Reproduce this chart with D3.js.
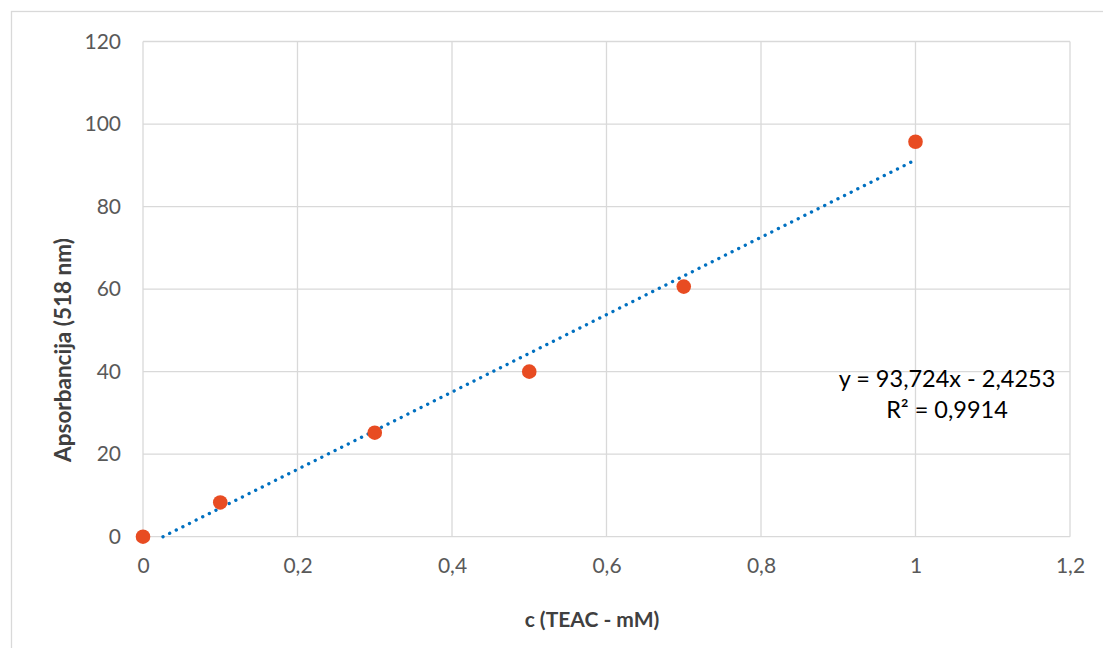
<!DOCTYPE html>
<html>
<head>
<meta charset="utf-8">
<script src="https://cdn.jsdelivr.net/npm/d3@7.9.0/dist/d3.min.js"></script>
<style>
  body { margin: 0; background: #fff; }
  svg text { font-family: Lato, "Open Sans", sans-serif; }
</style>
</head>
<body>
<svg id="chart" width="1103" height="648"></svg>
<script>
const concentrations = [0, 0.1, 0.3, 0.5, 0.7, 1];
const absorbance = [0, 8.3, 25.2, 40.0, 60.6, 95.7];
const xTicks = [0, 0.2, 0.4, 0.6, 0.8, 1, 1.2];
const yTicks = [0, 20, 40, 60, 80, 100, 120];
const slope = 93.724;
const intercept = -2.4253;
const equationLines = ["y = 93,724x - 2,4253", "R² = 0,9914"];

const svg = d3.select("#chart");

// outer chart border
svg.append("rect")
    .attr("x", 11.5).attr("y", 11.5)
    .attr("width", 1200).attr("height", 800)
    .attr("fill", "none").attr("stroke", "#d9d9d9").attr("stroke-width", 1.3);

const plotLeft = 143, plotRight = 1070, plotTop = 41.5, plotBottom = 536.7;
const x = d3.scaleLinear().domain([0, 1.2]).range([plotLeft, plotRight]);
const y = d3.scaleLinear().domain([0, 120]).range([plotBottom, plotTop]);
const fmt = d => String(+d.toFixed(1)).replace(".", ",");

// grid
svg.append("g").selectAll("line").data(yTicks).join("line")
    .attr("x1", plotLeft).attr("x2", plotRight)
    .attr("y1", d => y(d)).attr("y2", d => y(d))
    .attr("stroke", "#d9d9d9").attr("stroke-width", 1.3);
svg.append("g").selectAll("line").data(xTicks).join("line")
    .attr("y1", plotTop).attr("y2", plotBottom)
    .attr("x1", d => x(d)).attr("x2", d => x(d))
    .attr("stroke", "#d9d9d9").attr("stroke-width", 1.3);

// axes labels (no tick marks, no domain)
const yAxis = svg.append("g").attr("transform", `translate(${plotLeft},0)`)
    .call(d3.axisLeft(y).tickValues(yTicks).tickSize(0).tickPadding(22).tickFormat(fmt));
const xAxis = svg.append("g").attr("transform", `translate(0,${plotBottom})`)
    .call(d3.axisBottom(x).tickValues(xTicks).tickSize(0).tickPadding(21).tickFormat(fmt));
[xAxis, yAxis].forEach(a => {
    a.select(".domain").remove();
    a.selectAll("text").attr("fill", "#595959").style("font-size", "21px")
        .style("font-family", "Lato, 'Open Sans', sans-serif");
});

// trendline
const x0 = -intercept / slope;
const trend = [x0, concentrations[concentrations.length - 1]].map(v => [v, slope * v + intercept]);
svg.append("path")
    .attr("d", d3.line().x(d => x(d[0])).y(d => y(d[1]))(trend))
    .attr("fill", "none").attr("stroke", "#0070C0").attr("stroke-width", 3.3)
    .attr("stroke-linecap", "round").attr("stroke-dasharray", "0.1 7.3");

// points
svg.append("g").selectAll("circle").data(concentrations).join("circle")
    .attr("cx", d => x(d)).attr("cy", (d, i) => y(absorbance[i]))
    .attr("r", 7.3).attr("fill", "#E84C22");

// equation
svg.append("text").attr("x", 947).attr("y", 381).attr("text-anchor", "middle")
    .attr("dominant-baseline", "middle")
    .selectAll("tspan").data(equationLines).join("tspan")
    .attr("x", 947).attr("dy", (d, i) => i ? 31 : 0)
    .text(d => d)
    .attr("fill", "#000").style("font-size", "23.5px");

// axis titles
svg.append("text").attr("x", 592).attr("y", 622).attr("text-anchor", "middle")
    .attr("dominant-baseline", "middle")
    .attr("fill", "#404040").style("font-size", "21px").style("font-weight", "bold")
    .text("c (TEAC - mM)");
svg.append("text").attr("transform", "translate(65,350) rotate(-90)")
    .attr("text-anchor", "middle").attr("dominant-baseline", "middle")
    .attr("fill", "#404040").style("font-size", "22.5px").style("font-weight", "bold")
    .text("Apsorbancija (518 nm)");
</script>
</body>
</html>
